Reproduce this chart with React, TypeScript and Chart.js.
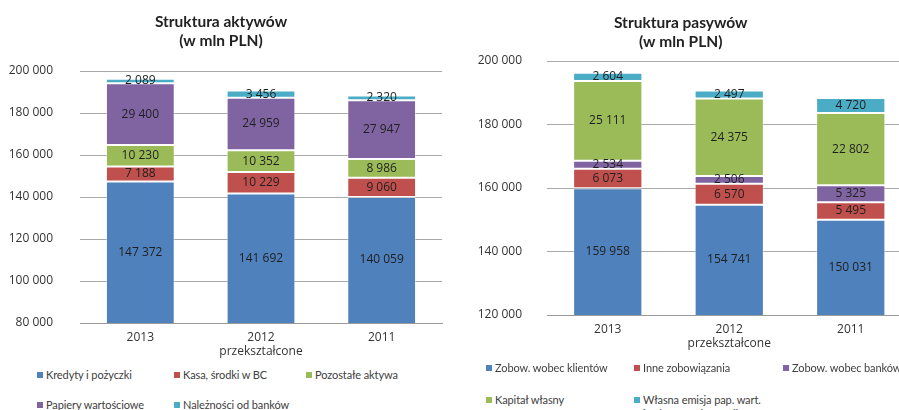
import React, { useEffect, useRef } from "react";
import { Chart, registerables } from "chart.js";

Chart.register(...registerables);

// ---------- data ----------
const categories: string[][] = [["2013"], ["2012", "przekształcone"], ["2011"]];

const assetSeriesNames = [
  "Kredyty i pożyczki",
  "Kasa, środki w BC",
  "Pozostałe aktywa",
  "Papiery wartościowe",
  "Należności od banków",
];
const kredyty = [147372, 141692, 140059];
const kasa = [7188, 10229, 9060];
const pozostaleAktywa = [10230, 10352, 8986];
const papiery = [29400, 24959, 27947];
const naleznosci = [2089, 3456, 2320];

const liabSeriesNames = [
  "Zobow. wobec klientów",
  "Inne zobowiązania",
  "Zobow. wobec banków",
  "Kapitał własny",
  "Własna emisja pap. wart.\ni zobow. podporządk.",
];
const zobKlienci = [159958, 154741, 150031];
const inneZob = [6073, 6570, 5495];
const zobBanki = [2534, 2506, 5325];
const kapital = [25111, 24375, 22802];
const emisja = [2604, 2497, 4720];

const assetAxis = { min: 80000, max: 200000, step: 20000 };
const liabAxis = { min: 120000, max: 200000, step: 20000 };

const BLUE = "#4F81BD";
const RED = "#C0504D";
const GREEN = "#9BBB59";
const PURPLE = "#8064A2";
const CYAN = "#4BACC6";
const assetColors = [BLUE, RED, GREEN, PURPLE, CYAN];
const liabColors = [BLUE, RED, PURPLE, GREEN, CYAN];

const fmt = (v: number) => String(Math.round(v)).replace(/\B(?=(\d{3})+(?!\d))/g, " ");

const NUM_FONT = '"Open Sans", "DejaVu Sans", sans-serif';
const TITLE_FONT = 'Lato, "Open Sans", sans-serif';

const valueLabels = {
  id: "valueLabels",
  afterDatasetsDraw(chart: any) {
    const ctx = chart.ctx;
    const area = chart.chartArea;
    ctx.save();
    ctx.font = `12px ${NUM_FONT}`;
    ctx.fillStyle = "#1f1f1f";
    ctx.textAlign = "center";
    ctx.textBaseline = "middle";
    chart.data.datasets.forEach((ds: any, i: number) => {
      const meta = chart.getDatasetMeta(i);
      meta.data.forEach((el: any, j: number) => {
        const top = Math.max(Math.min(el.y, el.base), area.top);
        const bot = Math.min(Math.max(el.y, el.base), area.bottom);
        if (bot <= top) return;
        ctx.fillText(fmt(ds.data[j]), el.x, (top + bot) / 2);
      });
    });
    ctx.restore();
  },
};

function makeConfig(
  names: string[],
  series: number[][],
  cols: string[],
  axis: { min: number; max: number; step: number },
  title: string[],
  titlePad: { top: number; bottom: number },
  yWidth: number,
  yPad: number,
  rightPad: number
): any {
  return {
    type: "bar",
    data: {
      labels: categories,
      datasets: series.map((d, i) => ({
        label: names[i],
        data: d,
        backgroundColor: cols[i],
        borderColor: "rgba(255,255,255,0.45)",
        borderWidth: 1,
        borderSkipped: false,
        barPercentage: 0.57,
        categoryPercentage: 1,
      })),
    },
    options: {
      responsive: false,
      animation: false,
      devicePixelRatio: 1,
      layout: { padding: { left: 0, right: rightPad, top: 0, bottom: 0 } },
      plugins: {
        legend: { display: false },
        tooltip: { enabled: false },
        title: {
          display: true,
          text: title,
          color: "#222",
          font: { family: TITLE_FONT, size: 15.5, weight: "bold", lineHeight: 1.22 },
          padding: titlePad,
        },
      },
      scales: {
        x: {
          stacked: true,
          grid: { display: false, drawTicks: false },
          border: { display: true, color: "#9a9a9a" },
          ticks: {
            color: "#333",
            padding: 7,
            font: { family: NUM_FONT, size: 12, lineHeight: 1.2 },
            maxRotation: 0,
            autoSkip: false,
          },
          afterFit(scale: any) {
            scale.height = 40;
          },
        },
        y: {
          stacked: true,
          min: axis.min,
          max: axis.max,
          grid: { color: "#a8a8a8", drawTicks: false, lineWidth: 1 },
          border: { display: false },
          ticks: {
            stepSize: axis.step,
            color: "#333",
            padding: yPad,
            font: { family: NUM_FONT, size: 12 },
            callback: (v: number) => fmt(v),
          },
          afterFit(scale: any) {
            scale.width = yWidth;
          },
        },
      },
    },
    plugins: [valueLabels],
  };
}

function ChartCanvas({ config, width, height, left }: { config: any; width: number; height: number; left: number }) {
  const ref = useRef<HTMLCanvasElement | null>(null);
  useEffect(() => {
    if (!ref.current) return;
    const c = new Chart(ref.current, config);
    return () => c.destroy();
  }, []);
  return (
    <canvas
      ref={ref}
      width={width}
      height={height}
      style={{ position: "absolute", left, top: 0, width, height }}
    />
  );
}

function Legend({
  names,
  cols,
  xs,
  ys,
}: {
  names: string[];
  cols: string[];
  xs: number[];
  ys: number[];
}) {
  return (
    <>
      {names.map((n, i) => {
        const col = i % 3;
        const row = Math.floor(i / 3);
        return (
          <div
            key={n}
            style={{
              position: "absolute",
              left: xs[col],
              top: ys[row] - 7,
              display: "flex",
              alignItems: "flex-start",
              font: `11px ${TITLE_FONT}`,
              letterSpacing: "-0.1px",
              lineHeight: "14px",
              color: "#404040",
              whiteSpace: "pre",
            }}
          >
            <span
              style={{
                display: "inline-block",
                width: 6,
                height: 6,
                marginTop: 4,
                marginRight: 3,
                background: cols[i],
                flex: "none",
              }}
            />
            <span>{n}</span>
          </div>
        );
      })}
    </>
  );
}

export default function App() {
  const left = makeConfig(
    assetSeriesNames,
    [kredyty, kasa, pozostaleAktywa, papiery, naleznosci],
    assetColors,
    assetAxis,
    ["Struktura aktywów", "(w mln PLN)"],
    { top: 12.5, bottom: 20.7 },
    80,
    27,
    14
  );
  const right = makeConfig(
    liabSeriesNames,
    [zobKlienci, inneZob, zobBanki, kapital, emisja],
    liabColors,
    liabAxis,
    ["Struktura pasywów", "(w mln PLN)"],
    { top: 13.5, bottom: 9.7 },
    97,
    25,
    26.5
  );
  return (
    <div
      style={{
        position: "fixed",
        left: 0,
        top: 0,
        width: 899,
        height: 410,
        overflow: "hidden",
        background: "#fff",
      }}
    >
      <ChartCanvas config={left} width={456} height={363} left={0} />
      <ChartCanvas config={right} width={488} height={355} left={450} />
      <Legend names={assetSeriesNames} cols={assetColors} xs={[37, 174, 306]} ys={[375, 405]} />
      <Legend names={liabSeriesNames} cols={liabColors} xs={[486, 634, 783]} ys={[368, 400]} />
    </div>
  );
}
